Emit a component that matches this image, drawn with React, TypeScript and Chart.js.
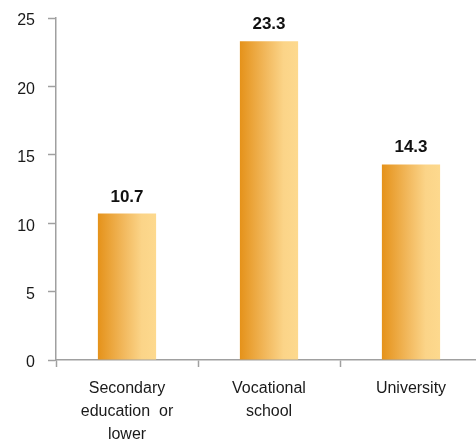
import React, { useEffect, useRef } from "react";
import { Chart, registerables } from "chart.js";

Chart.register(...registerables);

// Categories (multi-line axis labels) and their shares
const categories: (string | string[])[] = [
  ["Secondary", "education  or", "lower"],
  ["Vocational", "school"],
  "University",
];
const values: number[] = [10.7, 23.3, 14.3];

// Value axis
const yMin = 0;
const yMax = 25;
const yStep = 5;

const BAR_PCT = 0.41;
const AXIS_GRAY = "#a0a0a0";
const FONT = "'Liberation Sans', Arial, Helvetica, sans-serif";

// Horizontal orange gradient across each bar's own width
function barFill(context: any) {
  const chart = context.chart;
  const x = chart.scales?.x;
  if (!x || context.dataIndex === undefined) return "#eba43a";
  const center = x.getPixelForValue(context.dataIndex);
  const half = ((x.width / categories.length) * BAR_PCT) / 2;
  if (!Number.isFinite(center) || !Number.isFinite(half) || half <= 0) return "#eba43a";
  const g = chart.ctx.createLinearGradient(center - half, 0, center + half, 0);
  g.addColorStop(0, "#e5921a");
  g.addColorStop(0.45, "#f2b95e");
  g.addColorStop(0.75, "#fbd488");
  g.addColorStop(1, "#fdd98e");
  return g;
}

// Bold value written above each bar
const valueLabels = {
  id: "valueLabels",
  afterDatasetsDraw(chart: any) {
    const { ctx } = chart;
    const meta = chart.getDatasetMeta(0);
    ctx.save();
    ctx.font = `bold 17px ${FONT}`;
    ctx.fillStyle = "#111";
    ctx.textAlign = "center";
    ctx.textBaseline = "alphabetic";
    meta.data.forEach((bar: any, i: number) => {
      ctx.fillText(values[i].toFixed(1), bar.x, bar.y - 12);
    });
    ctx.restore();
  },
};

export default function App() {
  const canvasRef = useRef<HTMLCanvasElement | null>(null);

  useEffect(() => {
    if (!canvasRef.current) return;
    const chart = new Chart(canvasRef.current, {
      type: "bar",
      data: {
        labels: categories,
        datasets: [
          {
            data: values,
            backgroundColor: barFill,
            borderWidth: 0,
            categoryPercentage: 1,
            barPercentage: BAR_PCT,
          },
        ],
      },
      options: {
        responsive: false,
        animation: false,
        layout: { padding: { top: 18, left: 0, right: 0, bottom: 0 } },
        plugins: {
          legend: { display: false },
          tooltip: { enabled: false },
        },
        scales: {
          x: {
            offset: true,
            grid: {
              offset: true,
              drawOnChartArea: false,
              drawTicks: true,
              tickLength: 7,
              tickColor: AXIS_GRAY,
              tickWidth: 1.5,
            },
            border: { display: true, color: AXIS_GRAY, width: 1.5 },
            ticks: {
              color: "#1a1a1a",
              padding: 10,
              maxRotation: 0,
              autoSkip: false,
              font: { family: FONT, size: 16, lineHeight: 1.45 },
            },
            afterFit: (scale: any) => {
              scale.height = 81;
            },
          },
          y: {
            min: yMin,
            max: yMax,
            ticks: {
              stepSize: yStep,
              color: "#1a1a1a",
              padding: 13,
              labelOffset: 3,
              font: { family: FONT, size: 16 },
            },
            grid: {
              drawOnChartArea: false,
              drawTicks: true,
              tickLength: 8,
              tickColor: AXIS_GRAY,
              tickWidth: 1.5,
            },
            border: { display: true, color: AXIS_GRAY, width: 1.5 },
            afterFit: (scale: any) => {
              scale.width = 56;
              scale.paddingTop = 0;
              scale.paddingBottom = 0;
            },
          },
        },
      },
      plugins: [valueLabels],
    });
    return () => chart.destroy();
  }, []);

  return (
    <div
      style={{
        position: "absolute",
        left: 0,
        top: 0,
        width: 476,
        height: 441,
        overflow: "hidden",
        background: "#fff",
      }}
    >
      <canvas ref={canvasRef} width={482} height={441} style={{ display: "block" }} />
    </div>
  );
}
